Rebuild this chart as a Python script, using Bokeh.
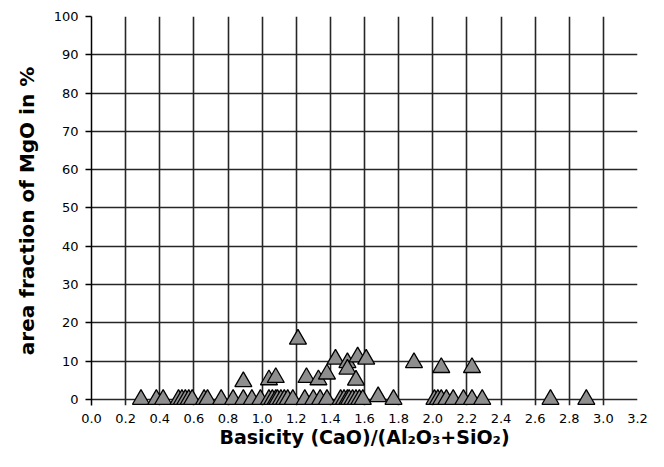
from bokeh.plotting import figure
from bokeh.models import FixedTicker, Range1d
from bokeh.embed import file_html
from bokeh.resources import INLINE

# ---- data ----
basicity = [
    0.29, 0.38, 0.42, 0.51, 0.53, 0.55, 0.57, 0.59, 0.66, 0.68,
    0.76, 0.83, 0.89, 0.94, 0.99, 1.04, 1.06, 1.08, 1.09, 1.11,
    1.13, 1.15, 1.18, 1.25, 1.30, 1.34, 1.38, 1.46, 1.48, 1.50,
    1.51, 1.53, 1.55, 1.57, 1.59, 1.68, 1.77, 2.01, 2.03, 2.05,
    2.08, 2.12, 2.18, 2.23, 2.29, 2.69, 2.90,
    0.89, 1.04, 1.08, 1.21, 1.26, 1.33, 1.38, 1.43, 1.50, 1.50,
    1.56, 1.61, 1.55, 1.89, 2.05, 2.23,
]
mgo_area = [
    0.0, 0.0, 0.0, 0.0, 0.0, 0.0, 0.0, 0.0, 0.0, 0.0,
    0.0, 0.0, 0.0, 0.0, 0.0, 0.0, 0.0, 0.0, 0.0, 0.0,
    0.0, 0.0, 0.0, 0.0, 0.0, 0.0, 0.0, 0.0, 0.0, 0.0,
    0.0, 0.0, 0.0, 0.0, 0.0, 0.7, 0.0, 0.0, 0.0, 0.0,
    0.0, 0.0, 0.0, 0.0, 0.0, 0.0, 0.0,
    4.6, 5.1, 5.7, 15.7, 5.7, 5.1, 6.6, 10.5, 9.6, 7.9,
    11.1, 10.5, 5.0, 9.6, 8.3, 8.3,
]
x_ticks = [0.0, 0.2, 0.4, 0.6, 0.8, 1.0, 1.2, 1.4, 1.6, 1.8,
           2.0, 2.2, 2.4, 2.6, 2.8, 3.0, 3.2]
x_tick_labels = ["0.0", "0.2", "0.4", "0.6", "0.8", "1.0", "1.2", "1.4", "1.6",
                 "1.8", "2.0", "2.2", "2.4", "2.6", "2.8", "3.0", "3.2"]
y_ticks = [0, 10, 20, 30, 40, 50, 60, 70, 80, 90, 100]
x_title = "Basicity (CaO)/(Al\u2082O\u2083+SiO\u2082)"
y_title = "area fraction of MgO in %"

FONT = "DejaVu Sans"
GRID = "#262626"

p = figure(
    width=648, height=451,
    x_range=Range1d(0, 3.2), y_range=Range1d(-1.6, 100),
    output_backend="svg", toolbar_location=None,
    min_border_left=91, min_border_right=11,
    min_border_top=16, min_border_bottom=46,
)
p.outline_line_color = None
p.background_fill_color = "white"
p.border_fill_color = "white"

# grid
p.xgrid.ticker = FixedTicker(ticks=x_ticks)
p.ygrid.ticker = FixedTicker(ticks=y_ticks)
for g in (p.xgrid, p.ygrid):
    g.grid_line_color = GRID
    g.grid_line_width = 1.6
    g.grid_line_alpha = 1.0

# y axis
ya = p.yaxis[0]
ya.ticker = FixedTicker(ticks=y_ticks)
ya.axis_line_color = "black"
ya.axis_line_width = 1.5
ya.major_tick_line_color = "black"
ya.major_tick_line_width = 1.5
ya.major_tick_out = 6
ya.major_tick_in = 0
ya.minor_tick_line_color = None
ya.major_label_standoff = 7
ya.major_label_text_font = FONT
ya.major_label_text_font_size = "13px"
ya.major_label_text_color = "black"
ya.axis_label = y_title
ya.axis_label_text_font = FONT
ya.axis_label_text_font_style = "bold"
ya.axis_label_text_font_size = "20px"
ya.axis_label_text_color = "black"
ya.axis_label_standoff = 12

# x axis
xa = p.xaxis[0]
xa.ticker = FixedTicker(ticks=x_ticks)
xa.major_label_overrides = {t: s for t, s in zip(x_ticks, x_tick_labels)}
xa.axis_line_color = None
xa.major_tick_line_color = None
xa.minor_tick_line_color = None
xa.major_tick_out = 0
xa.major_tick_in = 0
xa.major_label_standoff = 8
xa.major_label_text_font = FONT
xa.major_label_text_font_size = "13px"
xa.major_label_text_color = "black"
xa.axis_label = x_title
xa.axis_label_text_font = FONT
xa.axis_label_text_font_style = "bold"
xa.axis_label_text_font_size = "19px"
xa.axis_label_text_color = "black"
xa.axis_label_standoff = 0

p.scatter(basicity, mgo_area, marker="triangle", size=17,
          fill_color="#8e8e8e", line_color="black", line_width=1.3)

open("out.html", "w").write(file_html(p, INLINE))
